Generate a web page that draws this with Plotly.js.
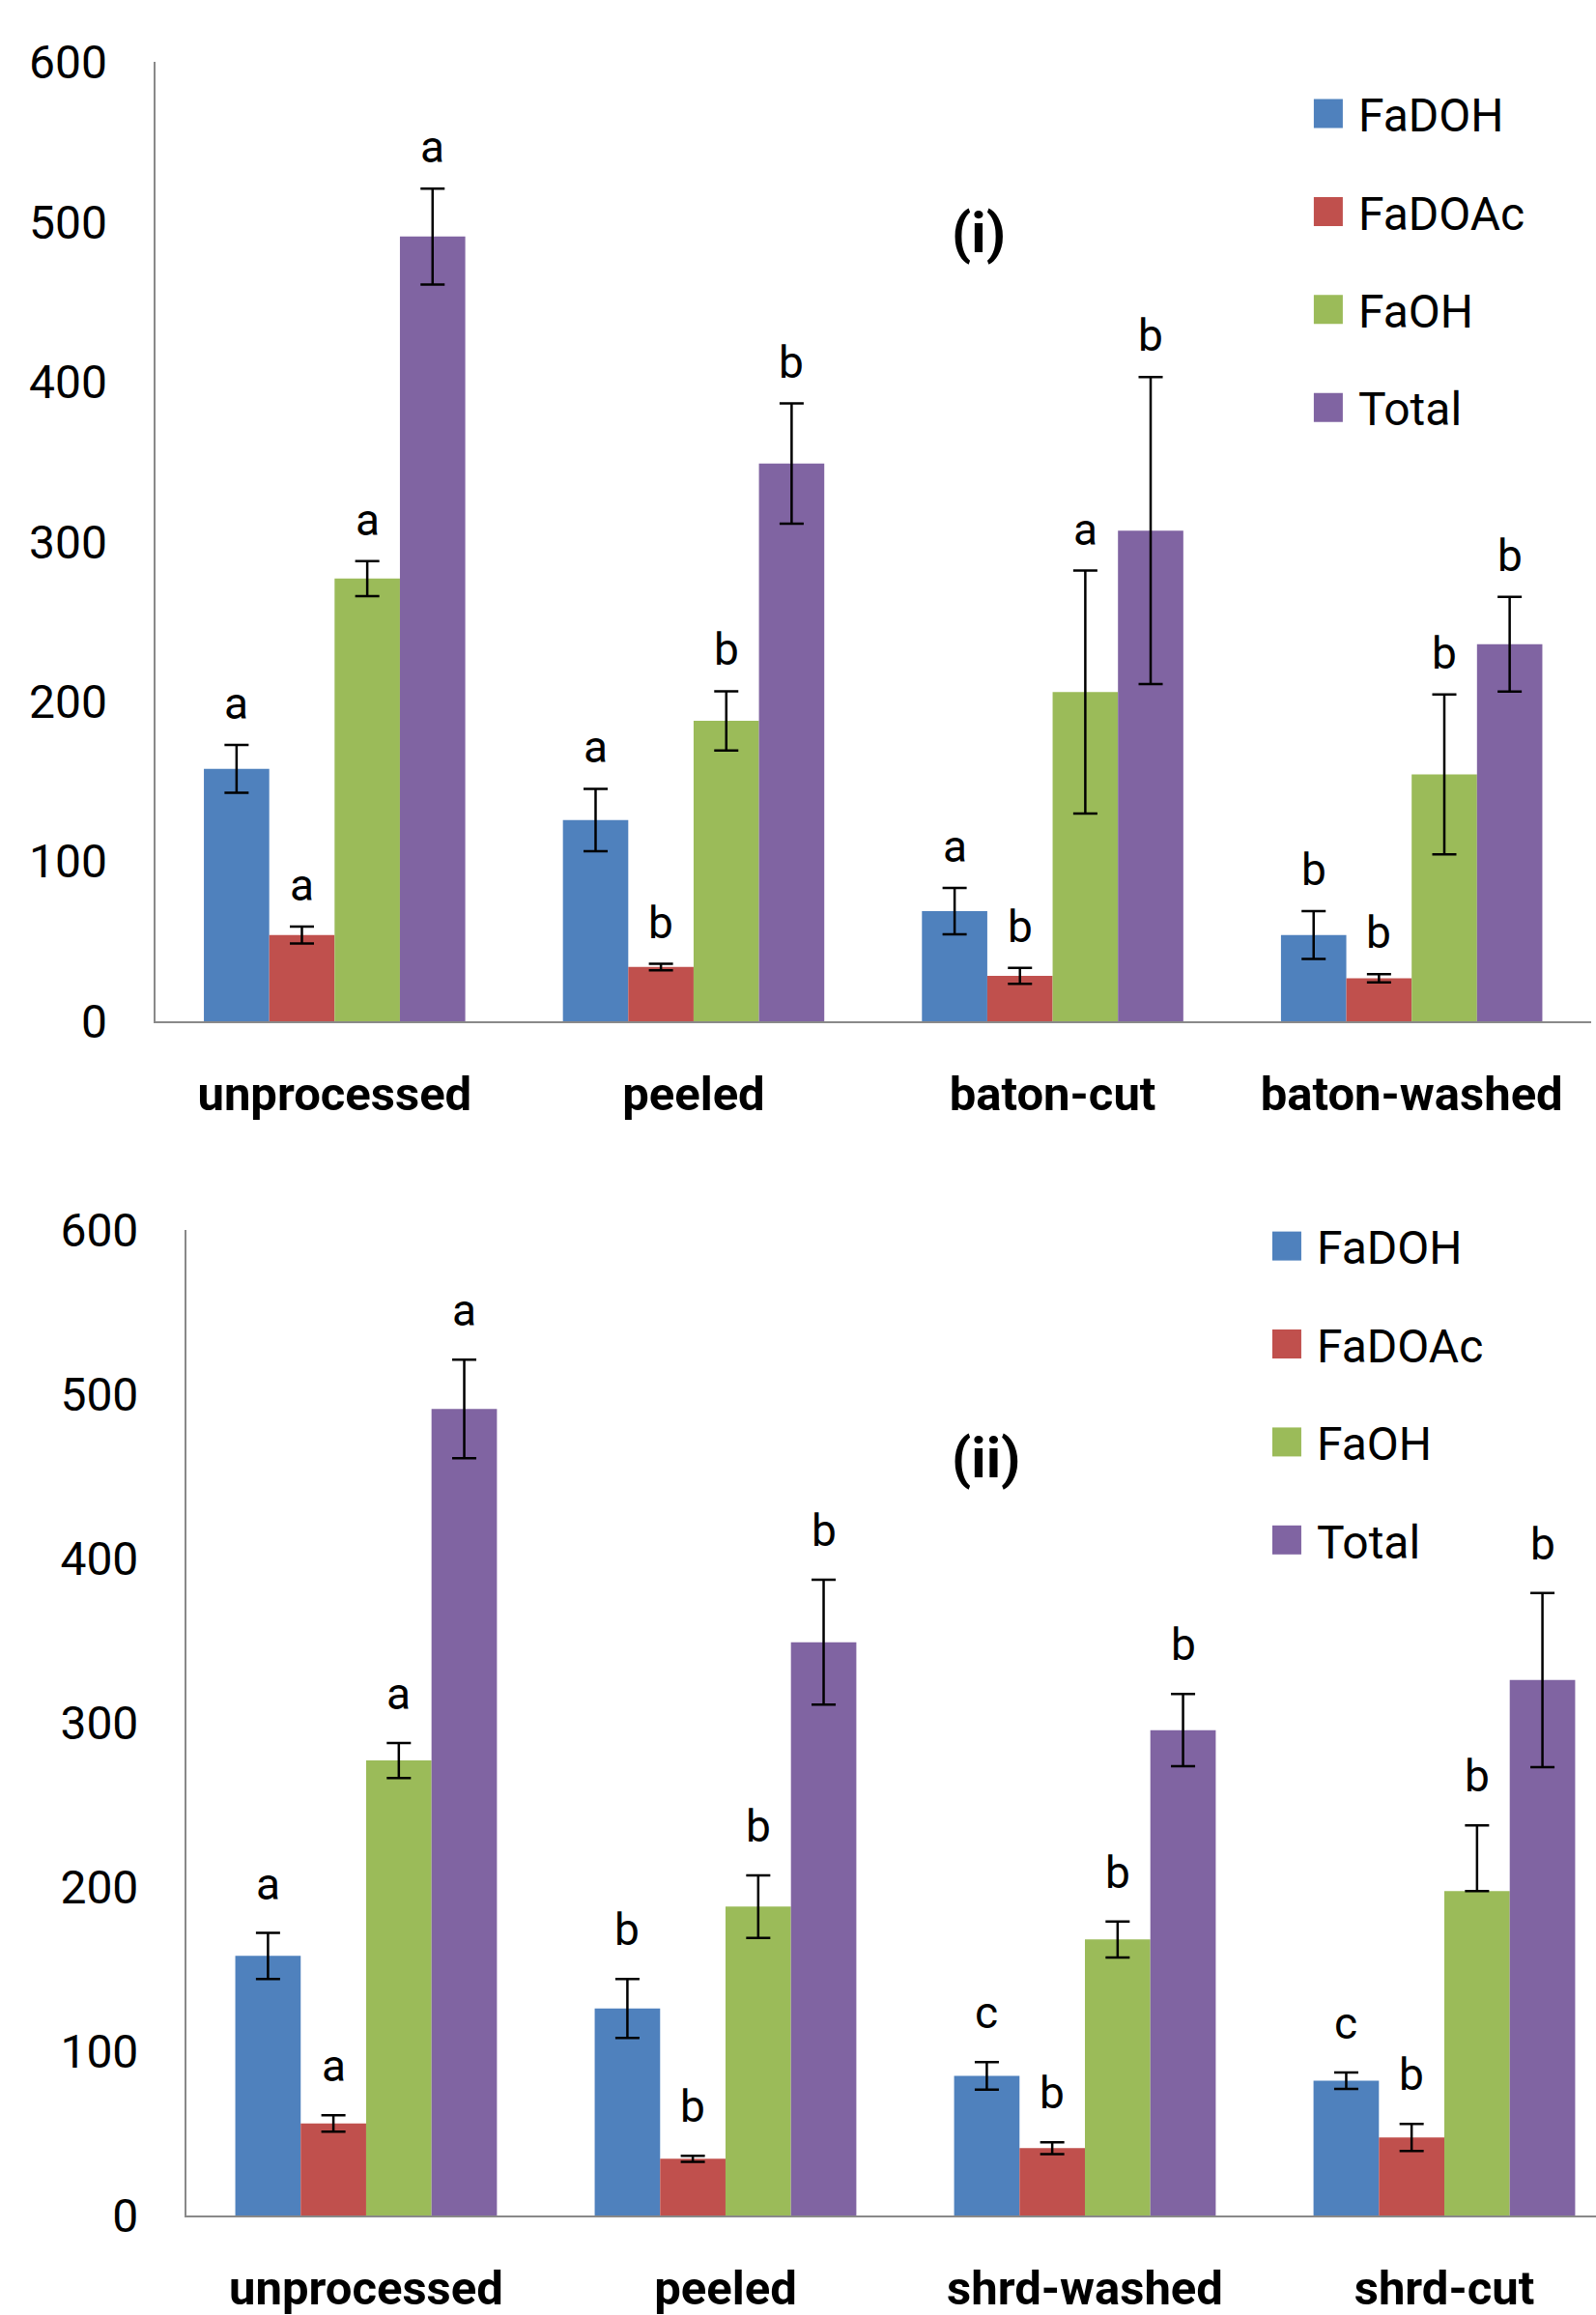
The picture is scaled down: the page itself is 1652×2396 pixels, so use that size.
<!DOCTYPE html>
<html>
<head>
<meta charset="utf-8">
<script src="https://cdn.plot.ly/plotly-3.0.1.min.js"></script>
<style>
  html, body { margin: 0; padding: 0; background: #ffffff; }
  #chart { width: 1652px; height: 2396px; }
</style>
</head>
<body>
<div id="chart"></div>
<script>
// ---------------- DATA ----------------
const seriesNames = ['FaDOH', 'FaDOAc', 'FaOH', 'Total'];

// Panel (i)
const categories1 = ['unprocessed', 'peeled', 'baton-cut', 'baton-washed'];
const fadoh1 = [158, 126, 69, 54];
const fadoh1Err = [15, 19.5, 14.5, 15];
const fadoac1 = [54, 34, 28.5, 27];
const fadoac1Err = [5.3, 2, 5, 2.6];
const faoh1 = [277, 188, 206, 154.5];
const faoh1Err = [11, 18.5, 76, 50];
const total1 = [491, 349, 307, 236];
const total1Err = [30, 37.6, 96, 29.6];
const fadoh1Sig = ['a', 'a', 'a', 'b'];
const fadoac1Sig = ['a', 'b', 'b', 'b'];
const faoh1Sig = ['a', 'b', 'a', 'b'];
const total1Sig = ['a', 'b', 'b', 'b'];

// Panel (ii)
const categories2 = ['unprocessed', 'peeled', 'shrd-washed', 'shrd-cut'];
const fadoh2 = [158, 126, 85, 82];
const fadoh2Err = [14, 18, 8.4, 5];
const fadoac2 = [56, 34.5, 41, 47.5];
const fadoac2Err = [5, 1.8, 3.6, 8.2];
const faoh2 = [277, 188, 168, 197.5];
const faoh2ErrPlus = [10.7, 19, 11, 40];
const faoh2ErrMinus = [10.7, 19, 11, 0];
const total2 = [491, 349, 295.5, 326];
const total2Err = [30, 38, 22, 53];
const fadoh2Sig = ['a', 'b', 'c', 'c'];
const fadoac2Sig = ['a', 'b', 'b', 'b'];
const faoh2Sig = ['a', 'b', 'b', 'b'];
const total2Sig = ['a', 'b', 'b', 'b'];

const panelLabels = ['(i)', '(ii)'];
const yTickVals = [0, 100, 200, 300, 400, 500, 600];

// ---------------- STYLE ----------------
const colors = ['#4F81BD', '#C0504D', '#9BBB59', '#8064A2'];
const FONT = 'Roboto, "Noto Sans", sans-serif';
const BARGAP = 0.272;
const axisGray = '#898989';

const panels = [
  {
    cats: categories1,
    vals: [fadoh1, fadoac1, faoh1, total1],
    plus: [fadoh1Err, fadoac1Err, faoh1Err, total1Err],
    minus: [fadoh1Err, fadoac1Err, faoh1Err, total1Err],
    sig: [fadoh1Sig, fadoac1Sig, faoh1Sig, total1Sig],
    xa: 'x', ya: 'y', legend: 'legend', letterShift: 14
  },
  {
    cats: categories2,
    vals: [fadoh2, fadoac2, faoh2, total2],
    plus: [fadoh2Err, fadoac2Err, faoh2ErrPlus, total2Err],
    minus: [fadoh2Err, fadoac2Err, faoh2ErrMinus, total2Err],
    sig: [fadoh2Sig, fadoac2Sig, faoh2Sig, total2Sig],
    xa: 'x2', ya: 'y2', legend: 'legend2', letterShift: 22
  }
];

const traces = [];
const annotations = [];
const nSeries = seriesNames.length;
const barW = (1 - BARGAP) / nSeries;

panels.forEach((p, pi) => {
  seriesNames.forEach((name, k) => {
    traces.push({
      type: 'bar',
      x: p.cats,
      y: p.vals[k],
      name: name,
      xaxis: p.xa,
      yaxis: p.ya,
      legend: p.legend,
      legendgroup: 'g' + pi + '_' + k,
      marker: { color: colors[k], line: { width: 0 } },
      error_y: {
        type: 'data',
        symmetric: false,
        array: p.plus[k],
        arrayminus: p.minus[k],
        visible: true,
        color: '#000000',
        thickness: 2.5,
        width: 12.5
      },
      hoverinfo: 'skip'
    });
    p.cats.forEach((c, i) => {
      annotations.push({
        xref: p.xa, yref: p.ya,
        x: i + (k - (nSeries - 1) / 2) * barW,
        y: p.vals[k][i] + p.plus[k][i],
        text: p.sig[k][i],
        showarrow: false,
        xanchor: 'center',
        yanchor: 'bottom',
        yshift: p.letterShift,
        font: { family: FONT, size: 46, color: '#000000' }
      });
    });
  });
});

annotations.push({
  xref: 'paper', yref: 'paper', x: 0.6129, y: 0.8994,
  text: '<b>' + panelLabels[0] + '</b>', showarrow: false,
  xanchor: 'center', yanchor: 'middle',
  font: { family: FONT, size: 58, color: '#000000' }
});
annotations.push({
  xref: 'paper', yref: 'paper', x: 0.618, y: 0.370,
  text: '<b>' + panelLabels[1] + '</b>', showarrow: false,
  xanchor: 'center', yanchor: 'middle',
  font: { family: FONT, size: 58, color: '#000000' }
});

function xAxis(domain, range, anchor) {
  return {
    domain: domain, range: range, anchor: anchor, type: 'category',
    showline: true, linecolor: axisGray, linewidth: 2,
    ticks: '', showgrid: false, zeroline: false,
    ticklabelstandoff: 31,
    tickfont: { family: FONT, size: 49, color: '#000000', weight: 'bold' },
    fixedrange: true
  };
}
function yAxis(domain, anchor) {
  return {
    domain: domain, range: [0, 600], anchor: anchor,
    tickmode: 'array', tickvals: yTickVals,
    showline: true, linecolor: axisGray, linewidth: 2,
    ticks: '', showgrid: false, zeroline: false,
    ticklabelstandoff: 38,
    tickfont: { family: FONT, size: 48, color: '#000000' },
    fixedrange: true
  };
}

function legendCfg(x, y) {
  return {
    x: x, y: y, xanchor: 'left', yanchor: 'top',
    bgcolor: 'rgba(0,0,0,0)', borderwidth: 0,
    font: { family: FONT, size: 48, color: '#000000' },
    itemwidth: 52, tracegroupgap: 36, traceorder: 'grouped',
    itemclick: false, itemdoubleclick: false
  };
}

const layout = {
  width: 1652, height: 2396,
  margin: { l: 0, r: 0, t: 0, b: 0 },
  paper_bgcolor: '#ffffff', plot_bgcolor: '#ffffff',
  barmode: 'group', bargap: BARGAP, bargroupgap: 0,
  showlegend: true,
  xaxis: xAxis([0.09716, 0.99697], [-0.5, 3.5], 'y'),
  yaxis: yAxis([0.5588, 0.9731], 'x'),
  xaxis2: xAxis([0.1168, 1.0], [-0.5, 3.422], 'y2'),
  yaxis2: yAxis([0.0430, 0.4687], 'x2'),
  legend: legendCfg(0.8135, 0.9667),
  legend2: legendCfg(0.7875, 0.4775),
  annotations: annotations,
  font: { family: FONT, color: '#000000' }
};

Plotly.newPlot('chart', traces, layout, { staticPlot: true, displayModeBar: false }).then(() => {
  document.querySelectorAll('.legendpoints path').forEach(el => {
    const t = el.getAttribute('transform') || '';
    el.setAttribute('transform', t + ' scale(2.5)');
  });
});
</script>
</body>
</html>
